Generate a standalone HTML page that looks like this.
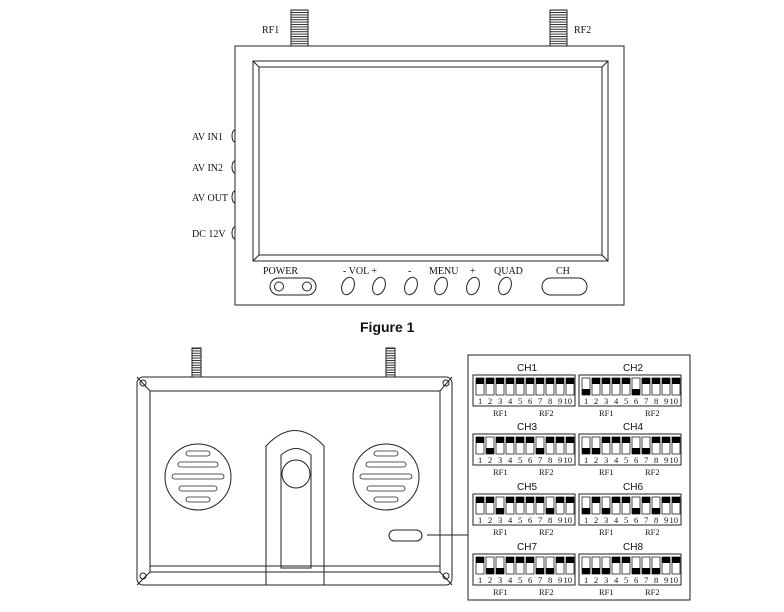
<!DOCTYPE html>
<html><head><meta charset="utf-8"><style>
html,body{margin:0;padding:0;background:#fff;}
svg{display:block;}
text{font-family:"Liberation Serif",serif;fill:#111;}
text.sans{font-family:"Liberation Sans",sans-serif;}
</style></head><body>
<svg width="784" height="612" viewBox="0 0 784 612" xmlns="http://www.w3.org/2000/svg">
<defs>
<pattern id="thr" width="4" height="2.4" patternUnits="userSpaceOnUse"><rect width="4" height="2.4" fill="#fff"/><rect width="4" height="1" fill="#333"/></pattern>
<g id="u"><rect x="0" y="0" width="8" height="17" fill="#fff" stroke="#222" stroke-width="0.8"/><rect x="0" y="0" width="8" height="6" fill="#000"/></g>
<g id="d"><rect x="0" y="0" width="8" height="17" fill="#fff" stroke="#222" stroke-width="0.8"/><rect x="0" y="11" width="8" height="6" fill="#000"/></g>
</defs>
<g fill="none" stroke="#222" stroke-width="1">
<rect x="291" y="10" width="17" height="36" fill="url(#thr)"/>
<rect x="550" y="10" width="17" height="36" fill="url(#thr)"/>
<rect x="235" y="46" width="389" height="259"/>
<rect x="253" y="61" width="355" height="200"/>
<rect x="259" y="67" width="343" height="188"/>
<line x1="253" y1="61" x2="259" y2="67"/><line x1="608" y1="61" x2="602" y2="67"/>
<line x1="253" y1="261" x2="259" y2="255"/><line x1="608" y1="261" x2="602" y2="255"/>
<path d="M235 130 a3 6 0 0 0 0 12 M235 161 a3 6 0 0 0 0 12 M235 191 a3 6 0 0 0 0 12 M235 227 a3 6 0 0 0 0 12"/>
<rect x="270" y="278" width="46" height="17" rx="8.5"/>
<circle cx="279" cy="286.5" r="4.5"/><circle cx="307" cy="286.5" r="4.5"/>
<rect x="542" y="278" width="45" height="17" rx="8.5"/>
<ellipse cx="348" cy="286" rx="6" ry="9" transform="rotate(20 348 286)"/>
<ellipse cx="379" cy="286" rx="6" ry="9" transform="rotate(20 379 286)"/>
<ellipse cx="411" cy="286" rx="6" ry="9" transform="rotate(20 411 286)"/>
<ellipse cx="441" cy="286" rx="6" ry="9" transform="rotate(20 441 286)"/>
<ellipse cx="473" cy="286" rx="6" ry="9" transform="rotate(20 473 286)"/>
<ellipse cx="505" cy="286" rx="6" ry="9" transform="rotate(20 505 286)"/>
<rect x="192" y="348" width="9" height="29" fill="url(#thr)"/>
<rect x="386" y="348" width="9" height="29" fill="url(#thr)"/>
<rect x="137" y="377" width="315" height="208" rx="6"/>
<rect x="150" y="391" width="290" height="181"/>
<line x1="137" y1="377" x2="150" y2="391"/><line x1="452" y1="377" x2="440" y2="391"/>
<line x1="137" y1="585" x2="150" y2="572"/><line x1="452" y1="585" x2="440" y2="572"/>
<line x1="150" y1="566" x2="440" y2="566"/>
<circle cx="143" cy="383" r="3"/><circle cx="446" cy="383" r="3"/><circle cx="143" cy="576" r="3"/><circle cx="446" cy="576" r="3"/>
<circle cx="198" cy="477" r="33"/><circle cx="386" cy="477" r="33"/>
<g stroke-width="0.8">
<rect x="186" y="451" width="24" height="5" rx="2.5"/><rect x="178" y="462" width="40" height="5" rx="2.5"/><rect x="172" y="474" width="52" height="5" rx="2.5"/><rect x="179" y="486" width="38" height="5" rx="2.5"/><rect x="186" y="497" width="24" height="5" rx="2.5"/>
<rect x="374" y="451" width="24" height="5" rx="2.5"/><rect x="366" y="462" width="40" height="5" rx="2.5"/><rect x="360" y="474" width="52" height="5" rx="2.5"/><rect x="367" y="486" width="38" height="5" rx="2.5"/><rect x="374" y="497" width="24" height="5" rx="2.5"/>
</g>
<path d="M266 585 V446 Q295 415 324 446 V585"/>
<path d="M281 568 V455 Q296 442 311 455 V568 Z"/>
<circle cx="296" cy="474" r="14"/>
<rect x="389" y="530" width="33" height="11" rx="5.5"/>
<line x1="427" y1="535" x2="468" y2="535"/>
<rect x="468" y="355" width="222" height="245"/>
</g>
<g font-size="10">
<text x="262" y="33">RF1</text><text x="574" y="33">RF2</text>
<text x="192" y="140">AV IN1</text><text x="192" y="171">AV IN2</text><text x="192" y="201">AV OUT</text><text x="192" y="237">DC 12V</text>
<text x="263" y="274">POWER</text><text x="343" y="274">-  VOL +</text><text x="408" y="274">-</text><text x="429" y="274">MENU</text><text x="470" y="274">+</text><text x="494" y="274">QUAD</text><text x="556" y="274">CH</text>
</g>
<text class="sans" x="360" y="332" font-weight="bold" font-size="14">Figure 1</text>

<g font-size="8.5">
<g transform="translate(473,375)"><rect width="102" height="31" fill="none" stroke="#222"/>
<use href="#u" x="3" y="3"/><use href="#u" x="13" y="3"/><use href="#u" x="23" y="3"/><use href="#u" x="33" y="3"/><use href="#u" x="43" y="3"/><use href="#u" x="53" y="3"/><use href="#u" x="63" y="3"/><use href="#u" x="73" y="3"/><use href="#u" x="83" y="3"/><use href="#u" x="93" y="3"/>
<text y="29" x="5 15 25 35 45 55 65 75 85 90.5">12345678910</text>
<text class="sans" x="44" y="-4" font-size="10">CH1</text><text x="20" y="41">RF1</text><text x="66" y="41">RF2</text></g>

<g transform="translate(579,375)"><rect width="102" height="31" fill="none" stroke="#222"/>
<use href="#d" x="3" y="3"/><use href="#u" x="13" y="3"/><use href="#u" x="23" y="3"/><use href="#u" x="33" y="3"/><use href="#u" x="43" y="3"/><use href="#d" x="53" y="3"/><use href="#u" x="63" y="3"/><use href="#u" x="73" y="3"/><use href="#u" x="83" y="3"/><use href="#u" x="93" y="3"/>
<text y="29" x="5 15 25 35 45 55 65 75 85 90.5">12345678910</text>
<text class="sans" x="44" y="-4" font-size="10">CH2</text><text x="20" y="41">RF1</text><text x="66" y="41">RF2</text></g>

<g transform="translate(473,434)"><rect width="102" height="31" fill="none" stroke="#222"/>
<use href="#u" x="3" y="3"/><use href="#d" x="13" y="3"/><use href="#u" x="23" y="3"/><use href="#u" x="33" y="3"/><use href="#u" x="43" y="3"/><use href="#u" x="53" y="3"/><use href="#d" x="63" y="3"/><use href="#u" x="73" y="3"/><use href="#u" x="83" y="3"/><use href="#u" x="93" y="3"/>
<text y="29" x="5 15 25 35 45 55 65 75 85 90.5">12345678910</text>
<text class="sans" x="44" y="-4" font-size="10">CH3</text><text x="20" y="41">RF1</text><text x="66" y="41">RF2</text></g>

<g transform="translate(579,434)"><rect width="102" height="31" fill="none" stroke="#222"/>
<use href="#d" x="3" y="3"/><use href="#d" x="13" y="3"/><use href="#u" x="23" y="3"/><use href="#u" x="33" y="3"/><use href="#u" x="43" y="3"/><use href="#d" x="53" y="3"/><use href="#d" x="63" y="3"/><use href="#u" x="73" y="3"/><use href="#u" x="83" y="3"/><use href="#u" x="93" y="3"/>
<text y="29" x="5 15 25 35 45 55 65 75 85 90.5">12345678910</text>
<text class="sans" x="44" y="-4" font-size="10">CH4</text><text x="20" y="41">RF1</text><text x="66" y="41">RF2</text></g>

<g transform="translate(473,494)"><rect width="102" height="31" fill="none" stroke="#222"/>
<use href="#u" x="3" y="3"/><use href="#u" x="13" y="3"/><use href="#d" x="23" y="3"/><use href="#u" x="33" y="3"/><use href="#u" x="43" y="3"/><use href="#u" x="53" y="3"/><use href="#u" x="63" y="3"/><use href="#d" x="73" y="3"/><use href="#u" x="83" y="3"/><use href="#u" x="93" y="3"/>
<text y="29" x="5 15 25 35 45 55 65 75 85 90.5">12345678910</text>
<text class="sans" x="44" y="-4" font-size="10">CH5</text><text x="20" y="41">RF1</text><text x="66" y="41">RF2</text></g>

<g transform="translate(579,494)"><rect width="102" height="31" fill="none" stroke="#222"/>
<use href="#d" x="3" y="3"/><use href="#u" x="13" y="3"/><use href="#d" x="23" y="3"/><use href="#u" x="33" y="3"/><use href="#u" x="43" y="3"/><use href="#d" x="53" y="3"/><use href="#u" x="63" y="3"/><use href="#d" x="73" y="3"/><use href="#u" x="83" y="3"/><use href="#u" x="93" y="3"/>
<text y="29" x="5 15 25 35 45 55 65 75 85 90.5">12345678910</text>
<text class="sans" x="44" y="-4" font-size="10">CH6</text><text x="20" y="41">RF1</text><text x="66" y="41">RF2</text></g>

<g transform="translate(473,554)"><rect width="102" height="31" fill="none" stroke="#222"/>
<use href="#u" x="3" y="3"/><use href="#d" x="13" y="3"/><use href="#d" x="23" y="3"/><use href="#u" x="33" y="3"/><use href="#u" x="43" y="3"/><use href="#u" x="53" y="3"/><use href="#d" x="63" y="3"/><use href="#d" x="73" y="3"/><use href="#u" x="83" y="3"/><use href="#u" x="93" y="3"/>
<text y="29" x="5 15 25 35 45 55 65 75 85 90.5">12345678910</text>
<text class="sans" x="44" y="-4" font-size="10">CH7</text><text x="20" y="41">RF1</text><text x="66" y="41">RF2</text></g>

<g transform="translate(579,554)"><rect width="102" height="31" fill="none" stroke="#222"/>
<use href="#d" x="3" y="3"/><use href="#d" x="13" y="3"/><use href="#d" x="23" y="3"/><use href="#u" x="33" y="3"/><use href="#u" x="43" y="3"/><use href="#d" x="53" y="3"/><use href="#d" x="63" y="3"/><use href="#d" x="73" y="3"/><use href="#u" x="83" y="3"/><use href="#u" x="93" y="3"/>
<text y="29" x="5 15 25 35 45 55 65 75 85 90.5">12345678910</text>
<text class="sans" x="44" y="-4" font-size="10">CH8</text><text x="20" y="41">RF1</text><text x="66" y="41">RF2</text></g>
</g>
</svg>
</body></html>
